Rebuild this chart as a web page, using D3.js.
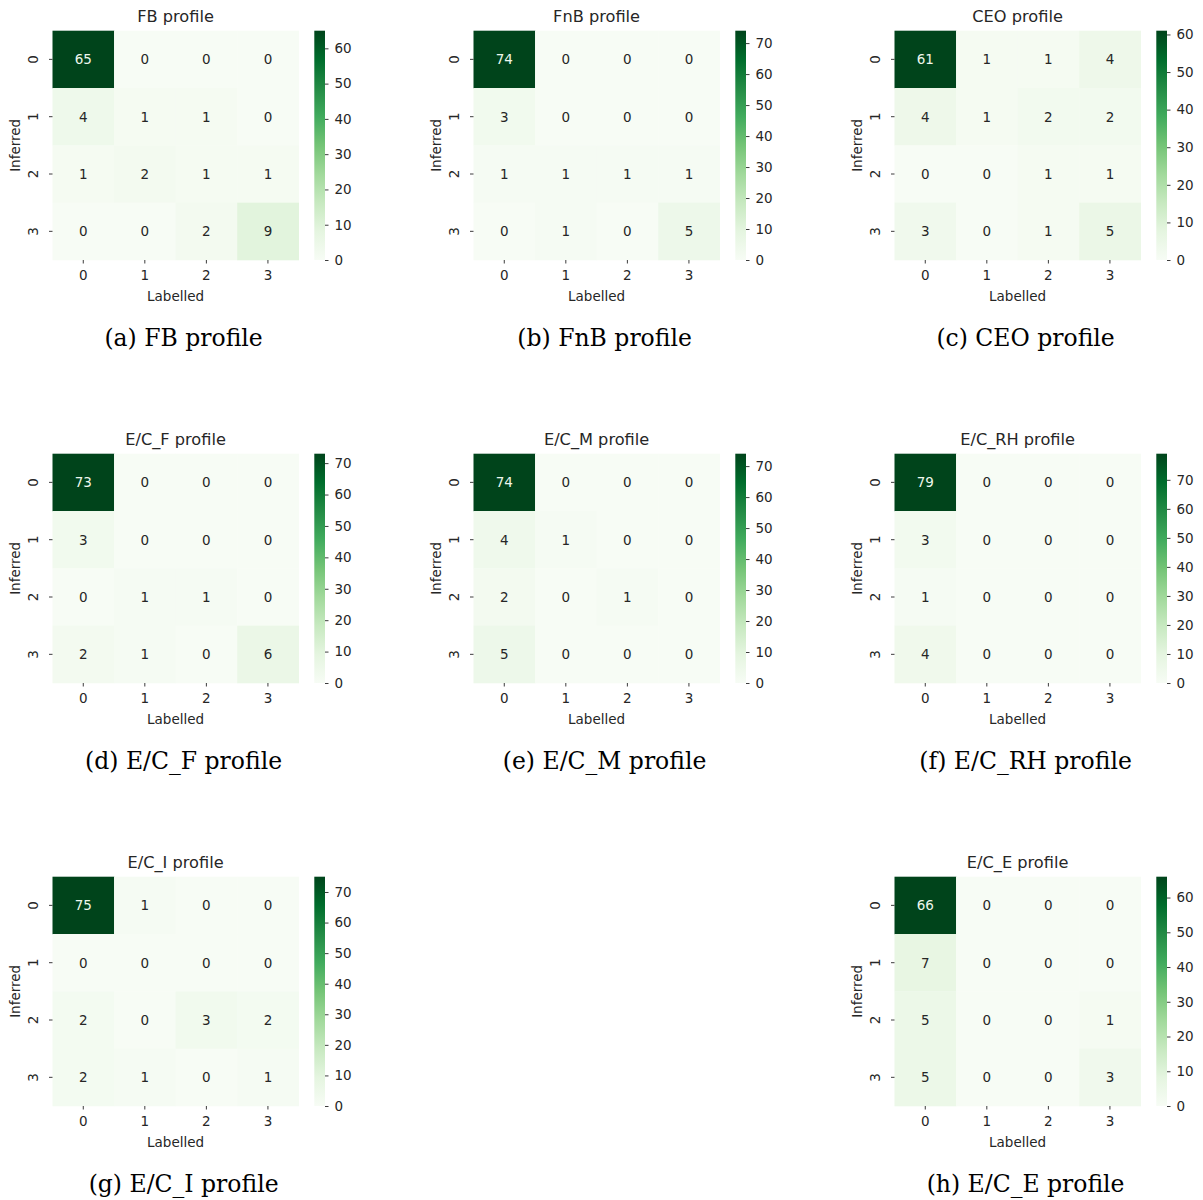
<!DOCTYPE html>
<html><head><meta charset="utf-8">
<script src="https://cdn.jsdelivr.net/npm/d3@7"></script>
<style>body{margin:0;background:#fff;} svg{display:block;}</style>
</head><body>
<svg id="chart" width="1203" height="1200"></svg>
<script>
const labels = ["0","1","2","3"];
const titles = ["FB profile","FnB profile","CEO profile","E/C_F profile","E/C_M profile","E/C_RH profile","E/C_I profile","E/C_E profile"];
const captions = ["(a) FB profile","(b) FnB profile","(c) CEO profile","(d) E/C_F profile","(e) E/C_M profile","(f) E/C_RH profile","(g) E/C_I profile","(h) E/C_E profile"];
const fbValues   = [[65,0,0,0],[4,1,1,0],[1,2,1,1],[0,0,2,9]];
const fnbValues  = [[74,0,0,0],[3,0,0,0],[1,1,1,1],[0,1,0,5]];
const ceoValues  = [[61,1,1,4],[4,1,2,2],[0,0,1,1],[3,0,1,5]];
const ecfValues  = [[73,0,0,0],[3,0,0,0],[0,1,1,0],[2,1,0,6]];
const ecmValues  = [[74,0,0,0],[4,1,0,0],[2,0,1,0],[5,0,0,0]];
const ecrhValues = [[79,0,0,0],[3,0,0,0],[1,0,0,0],[4,0,0,0]];
const eciValues  = [[75,1,0,0],[0,0,0,0],[2,0,3,2],[2,1,0,1]];
const eceValues  = [[66,0,0,0],[7,0,0,0],[5,0,0,1],[5,0,0,3]];
const panelData = [fbValues,fnbValues,ceoValues,ecfValues,ecmValues,ecrhValues,eciValues,eceValues];
const panelGrid = [[0,0],[0,1],[0,2],[1,0],[1,1],[1,2],[2,0],[2,2]];
const greens = ["#f7fcf5","#e5f5e0","#c7e9c0","#a1d99b","#74c476","#41ab5d","#238b45","#006d2c","#00441b"];

const svg = d3.select("#chart");
const defs = svg.append("defs");
const sans = "'DejaVu Sans', sans-serif";
const fs = 13.5;
const hmX = 52.5, hmY = 30.7, hmW = 246.2, hmH = 229.3;
const cbX = 314.3, cbW = 10.7;

panelData.forEach((data, i) => {
  const [row, col] = panelGrid[i];
  const g = svg.append("g").attr("transform", `translate(${col*421},${row*423})`);
  const vmax = d3.max(data.flat());
  const color = d3.scaleLinear().domain(d3.range(9).map(k => k*vmax/8)).range(greens).interpolate(d3.interpolateRgb);
  const x = d3.scaleBand().domain(labels).range([hmX, hmX+hmW]);
  const y = d3.scaleBand().domain(labels).range([hmY, hmY+hmH]);
  const cells = [];
  data.forEach((r, ri) => r.forEach((v, ci) => cells.push({r: labels[ri], c: labels[ci], v})));
  g.selectAll("rect.cell").data(cells).enter().append("rect")
    .attr("x", d => x(d.c)).attr("y", d => y(d.r))
    .attr("width", x.bandwidth()+0.3).attr("height", y.bandwidth()+0.3)
    .attr("fill", d => color(d.v));
  g.selectAll("text.ann").data(cells).enter().append("text")
    .attr("x", d => x(d.c)+x.bandwidth()/2).attr("y", d => y(d.r)+y.bandwidth()/2)
    .attr("dy","0.36em").attr("text-anchor","middle")
    .attr("font-family", sans).attr("font-size", fs)
    .attr("fill", d => d.v/vmax > 0.55 ? "#eef7ec" : "#262626")
    .text(d => d.v);
  // axes
  const xa = g.append("g").attr("transform", `translate(0,${hmY+hmH})`)
    .call(d3.axisBottom(x).tickSize(3.5).tickPadding(7));
  const ya = g.append("g").attr("transform", `translate(${hmX},0)`)
    .call(d3.axisLeft(y).tickSize(3.5).tickPadding(5));
  [xa, ya].forEach(a => {
    a.select(".domain").remove();
    a.selectAll("line").attr("stroke", "#262626").attr("stroke-width", 0.9);
    a.selectAll("text").attr("font-family", sans).attr("font-size", fs).attr("fill", "#262626");
  });
  ya.selectAll("text").attr("text-anchor","middle").attr("dy", null)
    .attr("transform", "translate(-19.5,0) rotate(-90)")
    .attr("x", 0).attr("y", 5);
  // labels
  g.append("text").attr("x", hmX+hmW/2).attr("y", 301).attr("text-anchor","middle")
    .attr("font-family", sans).attr("font-size", fs).attr("fill","#262626").text("Labelled");
  g.append("text").attr("transform", `translate(20,${hmY+hmH/2}) rotate(-90)`).attr("text-anchor","middle")
    .attr("font-family", sans).attr("font-size", fs).attr("fill","#262626").text("Inferred");
  g.append("text").attr("x", hmX+hmW/2).attr("y", 22).attr("text-anchor","middle")
    .attr("font-family", sans).attr("font-size", 16.2).attr("fill","#262626").text(titles[i]);
  // colorbar
  const gid = "cb"+i;
  const grad = defs.append("linearGradient").attr("id", gid).attr("x1",0).attr("x2",0).attr("y1",1).attr("y2",0);
  greens.forEach((c, k) => grad.append("stop").attr("offset", k/8).attr("stop-color", c));
  g.append("rect").attr("x", cbX).attr("y", hmY).attr("width", cbW).attr("height", hmH).attr("fill", `url(#${gid})`);
  const cy = d3.scaleLinear().domain([0, vmax]).range([hmY+hmH, hmY]);
  const ca = g.append("g").attr("transform", `translate(${cbX+cbW},0)`)
    .call(d3.axisRight(cy).tickValues(d3.range(0, vmax+0.001, 10)).tickSize(3.5).tickPadding(6).tickFormat(d3.format("d")));
  ca.select(".domain").remove();
  ca.selectAll("line").attr("stroke", "#262626").attr("stroke-width", 0.9);
  ca.selectAll("text").attr("font-family", sans).attr("font-size", fs).attr("fill", "#262626");
  // caption
  g.append("text").attr("x", hmX+hmW/2+8).attr("y", 345.5).attr("text-anchor","middle")
    .attr("font-family", "'DejaVu Serif', serif").attr("font-size", 23.5).attr("fill","#000").text(captions[i]);
});
</script>
</body></html>
